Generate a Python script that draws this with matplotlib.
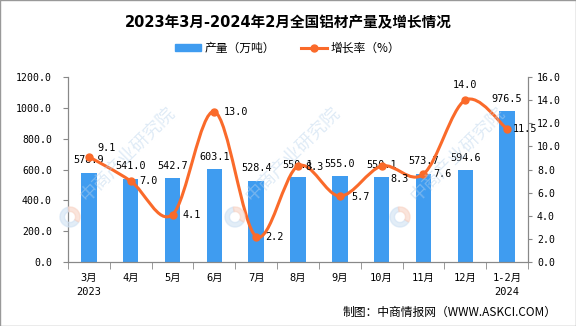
import numpy as np
import matplotlib
matplotlib.use('Agg')
import matplotlib.pyplot as plt
from matplotlib.path import Path
from matplotlib.patches import PathPatch, Patch, Rectangle, Wedge
from matplotlib.lines import Line2D

plt.rcParams['font.family'] = ['DejaVu Sans Mono', 'Noto Sans CJK SC', 'DejaVu Sans']

# ── 数据 ───────────────────────────────────────────────
months = ['3月\n2023', '4月', '5月', '6月', '7月', '8月', '9月',
          '10月', '11月', '12月', '1-2月\n2024']
output = [578.9, 541.0, 542.7, 603.1, 528.4, 550.1, 555.0,
          550.1, 573.7, 594.6, 976.5]
growth = [9.1, 7.0, 4.1, 13.0, 2.2, 8.3, 5.7, 8.3, 7.6, 14.0, 11.5]

# 增长率标签偏移 (points)
g_off = [(6, 6), (6, 0), (7, 0), (7, 0), (6.5, 0), (5, -1),
         (8, -1), (6, -9), (7, 0), (0, 11), (4, 0)]

bar_c = '#3f9cf0'
line_c = '#fa6a2a'
W, H = 576, 326

fig = plt.figure(figsize=(5.76, 3.26), dpi=100)
ax = fig.add_axes([68 / W, 1 - 262 / H, 460 / W, 185 / H])
ax2 = ax.twinx()

x = np.arange(len(months))
ax.bar(x, output, width=0.37, color=bar_c, zorder=2)
for xi, v in zip(x, output):
    ax.annotate(f'{v:.1f}', (xi, v), xytext=(0, 9), textcoords='offset points',
                ha='center', va='center', fontsize=7.3)

ax.set_xlim(-0.5, len(months) - 0.5)
ax.set_ylim(0, 1200)
ax.set_yticks(np.arange(0, 1201, 200))
ax.set_yticklabels([f'{t:.1f}' for t in np.arange(0, 1201, 200)], fontsize=7.1)
ax.set_xticks(x)
ax.set_xticklabels(months, fontsize=7.5, linespacing=1.45)
ax.set_xticks(np.arange(-0.5, len(months), 1), minor=True)
ax.tick_params(axis='x', which='major', length=0, pad=8)
ax.tick_params(axis='x', which='minor', length=5, color='#888888', direction='out')
ax.tick_params(axis='y', length=3.6, color='#888888', direction='out', pad=8)

ax2.set_ylim(0, 16)
ax2.set_yticks(np.arange(0, 17, 2))
ax2.set_yticklabels([f'{t:.1f}' for t in np.arange(0, 17, 2)], fontsize=7.1)
ax2.tick_params(axis='y', length=3, color='#888888', direction='out', pad=3.5)

for a in (ax, ax2):
    a.spines['top'].set_visible(False)
    for s in ('left', 'right', 'bottom'):
        a.spines[s].set_color('#888888')
        a.spines[s].set_linewidth(0.8)

# 平滑曲线 (贝塞尔)
pts = np.column_stack([x, growth]).astype(float)
ext = np.vstack([pts[0], pts, pts[-1]])
verts = [tuple(pts[0])]
codes = [Path.MOVETO]
for i in range(len(pts) - 1):
    p0, p1, p2, p3 = ext[i], ext[i + 1], ext[i + 2], ext[i + 3]
    c1 = p1 + (p2 - p0) / 6
    c2 = p2 - (p3 - p1) / 6
    verts += [tuple(c1), tuple(c2), tuple(p2)]
    codes += [Path.CURVE4] * 3
ax2.add_patch(PathPatch(Path(verts, codes), fill=False, edgecolor=line_c,
                        lw=2.2, zorder=3))
ax2.plot(x, growth, 'o', color=line_c, ms=5, zorder=4)
for xi, v, off in zip(x, growth, g_off):
    ax2.annotate(f'{v:.1f}', (xi, v), xytext=off, textcoords='offset points',
                 ha='left' if off[0] and off[1] != 11 else 'center',
                 va='center', fontsize=7.3)

fig.text(0.5, 1 - 23 / H, '2023年3月-2024年2月全国铝材产量及增长情况',
         ha='center', va='center', fontsize=10.5, fontweight='bold',
         family=['DejaVu Sans', 'Noto Sans CJK SC'])

handles = [Patch(color=bar_c, label='产量（万吨）'),
           Line2D([], [], color=line_c, lw=2.2, marker='o', ms=5, label='增长率（%）')]
fig.legend(handles=handles, loc='center', bbox_to_anchor=(0.5, 1 - 48 / H), ncol=2,
           frameon=False, handlelength=2.2, handleheight=0.6, columnspacing=2.2,
           handletextpad=0.3, prop={'family': ['Noto Sans CJK SC'], 'size': 8.5})

fig.text(557 / W, 1 - 312 / H, '制图：中商情报网（WWW.ASKCI.COM）', ha='right',
         va='center', fontsize=8.5, family=['Noto Sans CJK SC', 'DejaVu Sans'])

# 水印 (中间一行)
for lx in (70, 235, 400):
    ly = 217
    c = (lx / 100, (H - ly) / 100)
    fig.patches.append(Wedge(c, 0.1, 100, 330, width=0.045,
                             transform=fig.dpi_scale_trans, color='#cfe1f3',
                             alpha=0.6, zorder=10))
    fig.patches.append(Wedge(c, 0.1, 330, 100, width=0.045,
                             transform=fig.dpi_scale_trans, color='#f8d3c4',
                             alpha=0.6, zorder=10))
    fig.text((lx + 58) / W, 1 - (ly - 62) / H, '中商产业研究院', rotation=45,
             ha='center', va='center', fontsize=13, color='#b9d3ec',
             alpha=0.45, zorder=10, family=['Noto Sans CJK SC'])

fig.patches.append(Rectangle((0, 0), 1, 1, transform=fig.transFigure, fill=False,
                             edgecolor='#999999', lw=1))

fig.savefig('out.png', dpi=100)
